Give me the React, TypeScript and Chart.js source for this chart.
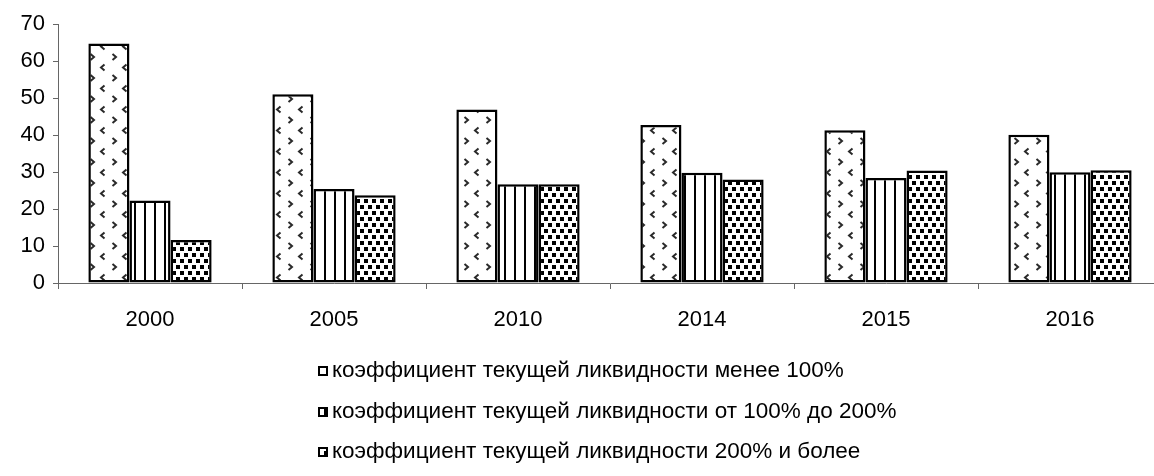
import React, { useEffect, useRef } from "react";
import { Chart, registerables } from "chart.js";

Chart.register(...registerables);

const categories = ["2000", "2005", "2010", "2014", "2015", "2016"];
const seriesLabels = [
  "коэффициент текущей ликвидности менее 100%",
  "коэффициент текущей ликвидности от 100% до 200%",
  "коэффициент текущей ликвидности 200% и более",
];
const below100 = [64.7, 51.0, 46.9, 42.7, 41.3, 40.1];
const from100to200 = [22.3, 25.4, 26.7, 29.8, 28.4, 29.9];
const above200 = [11.6, 23.7, 26.7, 28.0, 30.4, 30.5];
const yMin = 0;
const yMax = 70;
const yStep = 10;

const FONT = '"Liberation Sans", Arial, sans-serif';
const TICK_SIZE = 22;
const LEGEND_SIZE = 22.5;

function makeTile(w: number, h: number, draw: (c: CanvasRenderingContext2D) => void) {
  const cv = document.createElement("canvas");
  cv.width = w;
  cv.height = h;
  const c = cv.getContext("2d")!;
  c.fillStyle = "#ffffff";
  c.fillRect(0, 0, w, h);
  draw(c);
  return cv;
}

function chevronTile() {
  return makeTile(22, 21, (c) => {
    c.strokeStyle = "#2a2a2a";
    c.lineWidth = 2;
    // "<"
    c.beginPath();
    c.moveTo(16.5, 1.5);
    c.lineTo(13, 4.5);
    c.lineTo(16.5, 7.5);
    c.stroke();
    // ">"
    c.beginPath();
    c.moveTo(2.5, 12);
    c.lineTo(6, 15);
    c.lineTo(2.5, 18);
    c.stroke();
  });
}

function stripeTile() {
  return makeTile(10, 4, (c) => {
    c.fillStyle = "#000";
    c.fillRect(4, 0, 2, 4);
  });
}

function dotTile() {
  return makeTile(8, 12, (c) => {
    c.fillStyle = "#000";
    c.fillRect(0, 1, 4, 4);
    c.fillRect(4, 7, 4, 4);
  });
}

export default function App() {
  const ref = useRef<HTMLCanvasElement | null>(null);

  useEffect(() => {
    const canvas = ref.current;
    if (!canvas) return;
    const ctx = canvas.getContext("2d")!;
    const p1 = ctx.createPattern(chevronTile(), "repeat")!;
    const p2 = ctx.createPattern(stripeTile(), "repeat")!;
    const p3 = ctx.createPattern(dotTile(), "repeat")!;
    const patterns = [p1, p2, p3];

    const legendPlugin = {
      id: "customLegend",
      afterDraw(chart: any) {
        const c = chart.ctx as CanvasRenderingContext2D;
        const rows = [371, 412, 452];
        c.save();
        c.font = `${LEGEND_SIZE}px ${FONT}`;
        c.textBaseline = "middle";
        c.textAlign = "left";
        seriesLabels.forEach((label, i) => {
          const y = rows[i];
          c.fillStyle = patterns[i];
          c.fillRect(318, y - 5, 10, 10);
          c.strokeStyle = "#000";
          c.lineWidth = 2;
          c.strokeRect(319, y - 4, 8, 8);
          c.fillStyle = "#000";
          c.fillText(label, 332, y);
        });
        c.restore();
      },
    };

    const chart = new Chart(canvas, {
      type: "bar",
      data: {
        labels: categories,
        datasets: [
          { label: seriesLabels[0], data: below100, backgroundColor: p1 as any },
          { label: seriesLabels[1], data: from100to200, backgroundColor: p2 as any },
          { label: seriesLabels[2], data: above200, backgroundColor: p3 as any },
        ].map((d) => ({
          ...d,
          borderColor: "#000",
          borderWidth: 2.5,
          borderSkipped: false,
          categoryPercentage: 0.67,
          barPercentage: 1.0,
        })),
      },
      options: {
        animation: false,
        responsive: false,
        devicePixelRatio: 1,
        layout: { padding: { top: 24, right: 8, left: 0, bottom: 0 } },
        plugins: {
          legend: { display: false },
          tooltip: { enabled: false },
        },
        scales: {
          x: {
            offset: true,
            grid: {
              offset: true,
              drawOnChartArea: false,
              drawTicks: true,
              tickLength: 6,
              color: "#666",
            },
            border: { display: true, color: "#666", width: 1 },
            ticks: {
              color: "#000",
              font: { family: FONT, size: TICK_SIZE },
              padding: 18,
              maxRotation: 0,
            },
            afterFit: (s: any) => {
              s.height = 476 - 283;
            },
          },
          y: {
            min: yMin,
            max: yMax,
            grid: {
              drawOnChartArea: false,
              drawTicks: true,
              tickLength: 5,
              color: "#666",
            },
            border: { display: true, color: "#666", width: 1 },
            ticks: {
              stepSize: yStep,
              color: "#000",
              font: { family: FONT, size: TICK_SIZE },
              padding: 8,
            },
            afterFit: (s: any) => {
              s.width = 58;
            },
          },
        },
      },
      plugins: [legendPlugin],
    });
    return () => chart.destroy();
  }, []);

  return (
    <div
      style={{
        position: "absolute",
        left: 0,
        top: 0,
        width: 1154,
        height: 476,
        overflow: "hidden",
        background: "#fff",
      }}
    >
      <canvas ref={ref} width={1170} height={476} style={{ width: 1170, height: 476, display: "block" }} />
    </div>
  );
}
